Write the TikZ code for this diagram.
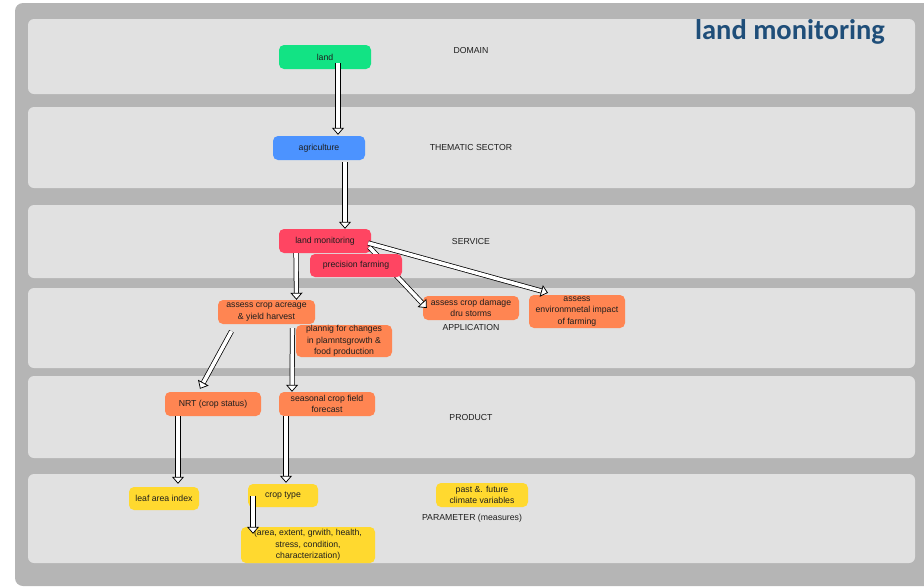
\documentclass[tikz,border=0pt]{standalone}
\usepackage{fontspec}
\setmainfont{Liberation Sans}
\newfontfamily\titlefont{Carlito}
\usetikzlibrary{arrows.meta}
\definecolor{framegray}{HTML}{B5B5B5}
\definecolor{bandgray}{HTML}{E1E1E1}
\definecolor{cgreen}{HTML}{12E384}
\definecolor{cblue}{HTML}{4C93FF}
\definecolor{cred}{HTML}{FF4562}
\definecolor{corange}{HTML}{FF8552}
\definecolor{cyellow}{HTML}{FFD92F}
\definecolor{ctitle}{HTML}{1F4E79}
\definecolor{ctext}{HTML}{1E1E1E}

\begin{document}
\begin{tikzpicture}[x=1pt,y=-1pt,
  band/.style={fill=bandgray, rounded corners=6pt},
  box/.style={rounded corners=5pt, minimum height=24pt, inner sep=0pt, align=center,
    text=ctext, font=\fontsize{8.7}{11.5}\selectfont},
  layer/.style={text=ctext, inner sep=0pt, font=\fontsize{8.7}{11}\selectfont},
  harrow/.style={draw=black, line width=0.75pt, double=white, double distance=3.6pt,
    -{Triangle[fill=white, length=7pt, width=12pt, line width=0.75pt]}},
]
\useasboundingbox (0,0) rectangle (924,587);

% frame and the six layer bands
\fill[framegray, rounded corners=8pt] (15,3) rectangle (940,586);
\fill[band] (28,19)  rectangle (915,94);
\fill[band] (28,107) rectangle (915,188);
\fill[band] (28,205) rectangle (915,278);
\fill[band] (28,288) rectangle (915,368);
\fill[band] (28,376) rectangle (915,458);
\fill[band] (28,474) rectangle (915,563);

% title
\node[text=ctitle, font=\titlefont\bfseries\fontsize{28.5}{30}\selectfont, inner sep=0pt]
  (title) at (790,32) {land monitoring};

% layer names
\node[layer] (ldomain)  at (471,51)  {DOMAIN};
\node[layer] (lsector)  at (471,148) {THEMATIC SECTOR};
\node[layer] (lservice) at (471,241) {SERVICE};
\node[layer] (lapp)     at (471,327) {APPLICATION};
\node[layer] (lproduct) at (471,417) {PRODUCT};
\node[layer] (lparam)   at (472,518) {PARAMETER (measures)};

% boxes
\node[box, fill=cgreen, minimum width=92pt] (land) at (325,57) {land};
\node[box, fill=cblue, minimum width=92pt] (agri) at (319,148) {agriculture};
\node[box, fill=cred, minimum width=92pt] (lm) at (325,241) {land monitoring};
\node[box, fill=corange, minimum width=97pt] (acre) at (266.5,312) {assess crop acreage\\ \& yield harvest};
\node[box, fill=corange, minimum width=96pt, minimum height=32pt] (plan) at (344,341) {plannig for changes\\ in plamntsgrowth \&\\ food production};
\node[box, fill=corange, minimum width=96pt] (damage) at (471,308) {assess crop damage\\ dru storms};
\node[box, fill=corange, minimum width=96pt, minimum height=33pt] (env) at (577,311.5) {assess\\ environmnetal impact\\ of farming};
\node[box, fill=corange, minimum width=96pt] (nrt) at (213,404) {NRT (crop status)};
\node[box, fill=corange, minimum width=96pt] (seas) at (327,404) {seasonal crop field\\ forecast};
\node[box, fill=cyellow, minimum width=70pt, minimum height=23pt] (leaf) at (164,498.5) {leaf area index};
\node[box, fill=cyellow, minimum width=70pt, minimum height=23pt] (ctype) at (283,495.5) {crop type};
\node[box, fill=cyellow, minimum width=134pt, minimum height=36pt] (area) at (308,545) {(area, extent, grwith, health,\\ stress, condition,\\ characterization)};
\node[box, fill=cyellow, minimum width=92pt] (past) at (482,495) {past \&. future\\ climate variables};

% connector that runs under the precision farming box
\draw[harrow] ([xshift=-2pt,yshift=-6pt]lm.east) -- ([xshift=4pt]damage.west);
\node[box, fill=cred, minimum width=92pt, minimum height=23pt] (pf) at (356,265.5) {precision farming};

% remaining connectors
\draw[harrow] ([xshift=13pt,yshift=-6pt]land.center) -- ([xshift=19pt,yshift=1pt]agri.north);
\draw[harrow] ([xshift=26pt,yshift=-2pt]agri.south) -- ([xshift=20pt]lm.north);
\draw[harrow] ([xshift=-29pt]lm.south) -- ([xshift=30pt]acre.north);
\draw[harrow] ([xshift=-3pt,yshift=-2pt]lm.east) -- ([xshift=-29pt,yshift=2pt]env.north);
\draw[harrow] ([xshift=-35pt,yshift=-7pt]acre.south) -- ([xshift=-13pt,yshift=3pt]nrt.north);
\draw[harrow] ([xshift=26pt,yshift=-4pt]acre.south) -- ([xshift=-35pt]seas.north);
\draw[harrow] ([xshift=-35pt]nrt.south) -- ([xshift=14pt,yshift=3pt]leaf.north);
\draw[harrow] ([xshift=-41pt]seas.south) -- ([xshift=3pt,yshift=1pt]ctype.north);
\draw[harrow] ([xshift=-30pt]ctype.center) -- ([xshift=-55pt,yshift=-7pt]area.north);
\end{tikzpicture}
\end{document}
